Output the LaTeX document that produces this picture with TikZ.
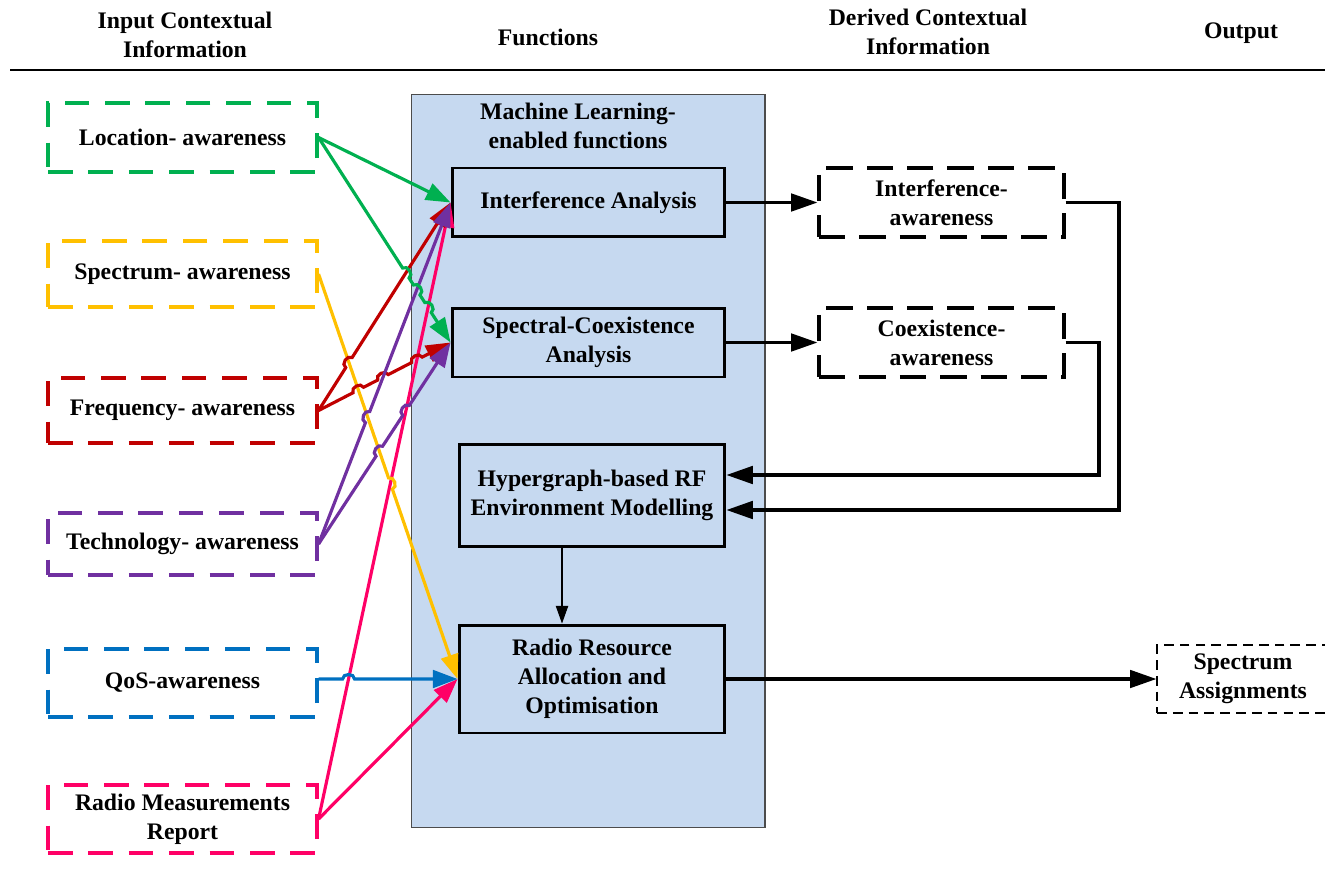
\documentclass[tikz,border=0pt]{standalone}
\usepackage{fontspec}
\setmainfont{Liberation Serif}
\usetikzlibrary{arrows.meta,calc}

\definecolor{mlfill}{RGB}{198,217,240}
\definecolor{cgreen}{RGB}{0,176,80}
\definecolor{cyellow}{RGB}{255,192,0}
\definecolor{cred}{RGB}{192,0,0}
\definecolor{cpurple}{RGB}{112,48,160}
\definecolor{cblue}{RGB}{0,112,192}
\definecolor{cpink}{RGB}{255,0,102}

% line jump: half width and control height of the little arc
\newcommand\hw{3.4pt}
\newcommand\hk{3.4pt}
% \hop{from}{to}{fraction}: jump over a crossing line at the given fraction of the way
\newcommand\hop[3]{%
  -- ($(#1)!#3!(#2)!\hw!(#1)$)
  .. controls ($(#1)!#3!(#2)!\hw!(#1)!\hk!-90:(#1)$)
  and ($(#1)!#3!(#2)!\hw!(#2)!\hk!90:(#2)$)
  .. ($(#1)!#3!(#2)!\hw!(#2)$)}

\tikzset{
  lbl/.style={font=\fontsize{13.5}{16.4}\selectfont\bfseries, align=center},
  inbox/.style={lbl, draw=#1, line width=1.8pt, dash pattern=on 14pt off 9pt,
    minimum width=5.38cm, inner sep=0pt},
  fbox/.style={lbl, draw, line width=1.7pt, fill=mlfill, inner sep=0pt},
  dbox/.style={lbl, draw, line width=1.8pt, dash pattern=on 15pt off 8pt,
    minimum width=4.9cm, minimum height=1.38cm, inner sep=0pt},
  sbox/.style={lbl, draw, line width=0.7pt, dash pattern=on 5.5pt off 3.5pt,
    minimum width=3.44cm, minimum height=1.36cm, inner sep=0pt},
  link/.style={draw=#1, line width=1.8pt, -{Triangle[length=14pt,width=10pt]}},
  blink/.style={draw=black, line width=1.8pt, -{Triangle[length=15pt,width=10pt]}},
  thinlink/.style={draw=black, line width=0.6pt, -{Triangle[length=10pt,width=7pt]}},
}

\begin{document}
\begin{tikzpicture}[x=0.02cm,y=-0.02cm]
\useasboundingbox (0,0) rectangle (1325,885);

% column headings
\node[lbl] (h1) at (185,35) {Input Contextual\\Information};
\node[lbl] (h2) at (548,37) {Functions};
\node[lbl] (h3) at (928,32) {Derived Contextual\\Information};
\node[lbl] (h4) at (1241,33) {Output};
\draw[line width=0.7pt] (10,70) -- (1325,70);

% machine-learning container
\node[draw=black!70, line width=0.6pt, fill=mlfill, minimum width=7.08cm,
  minimum height=14.68cm, inner sep=0pt] (ml) at (588,461) {};
\node[lbl] (mlt) at (578,126) {Machine Learning-\\enabled functions};

% functions
\node[fbox, minimum width=5.46cm, minimum height=1.38cm] (ia) at (588.5,202.5) {Interference Analysis};
\node[fbox, minimum width=5.46cm, minimum height=1.38cm] (sca) at (588.5,342.5) {Spectral-Coexistence\\Analysis};
\node[fbox, minimum width=5.32cm, minimum height=2.06cm] (hyp) at (592,495.5) {Hypergraph-based RF\\Environment Modelling};
\node[fbox, minimum width=5.32cm, minimum height=2.16cm] (rra) at (592,679) {Radio Resource\\Allocation and\\Optimisation};

% derived information and output
\node[dbox] (ida) at (941.5,202.5) {Interference-\\awareness};
\node[dbox] (cda) at (941.5,342.5) {Coexistence-\\awareness};
\node[sbox] (sa) at (1243,679) {Spectrum\\Assignments};

% input information
\node[inbox=cgreen, minimum height=1.38cm] (loc) at (182.5,137.5) {Location- awareness};
\node[inbox=cyellow, minimum height=1.32cm] (spec) at (182.5,274) {Spectrum- awareness};
\node[inbox=cred, minimum height=1.30cm] (freq) at (182.5,410.5) {Frequency- awareness};
\node[inbox=cpurple, minimum height=1.24cm] (tech) at (182.5,544) {Technology- awareness};
\node[inbox=cblue, minimum height=1.36cm] (qos) at (182.5,683) {QoS-awareness};
\node[inbox=cpink, minimum height=1.36cm] (rmr) at (182.5,819) {Radio Measurements\\Report};

% black connectors
\draw[blink] (ia.east) -- (ida.west);
\draw[blink] (sca.east) -- (cda.west);
\coordinate (ra) at (1119,510);
\coordinate (rb) at (1099,475);
\draw[blink] (ida.east) -| (ra) -- (ra -| hyp.east);
\draw[blink] (cda.east) -| (rb) -- (rb -| hyp.east);
\draw[blink] (rra.east) -- (sa.west);
\draw[thinlink] ([xshift=-0.6cm]hyp.south) -- ([xshift=-0.6cm]rra.north);

% coloured connectors with line jumps
\draw[link=cpink] (rmr.east) -- (ia.west);
\draw[link=cpink] (rmr.east) -- (rra.west);
\draw[link=cyellow] (spec.east) \hop{spec.east}{rra.west}{0.5174} -- (rra.west);
\draw[link=cred] (freq.east) \hop{freq.east}{ia.west}{0.2302} -- (ia.west);
\draw[link=cred] (freq.east) \hop{freq.east}{sca.west}{0.3013}
  \hop{freq.east}{sca.west}{0.4881} \hop{freq.east}{sca.west}{0.7448} -- (sca.west);
\draw[link=cpurple] (tech.east) \hop{tech.east}{ia.west}{0.3716} -- (ia.west);
\draw[link=cpurple] (tech.east) \hop{tech.east}{sca.west}{0.4604}
  \hop{tech.east}{sca.west}{0.6627} -- (sca.west);
\draw[link=cgreen] (loc.east) -- (ia.west);
\draw[link=cgreen] (loc.east) \hop{loc.east}{sca.west}{0.661}
  \hop{loc.east}{sca.west}{0.7438} \hop{loc.east}{sca.west}{0.8296} -- (sca.west);
\coordinate (qs) at (qos.east |- rra.west);
\draw[link=cblue] (qs) \hop{qs}{rra.west}{0.2159} -- (rra.west);
\end{tikzpicture}
\end{document}
